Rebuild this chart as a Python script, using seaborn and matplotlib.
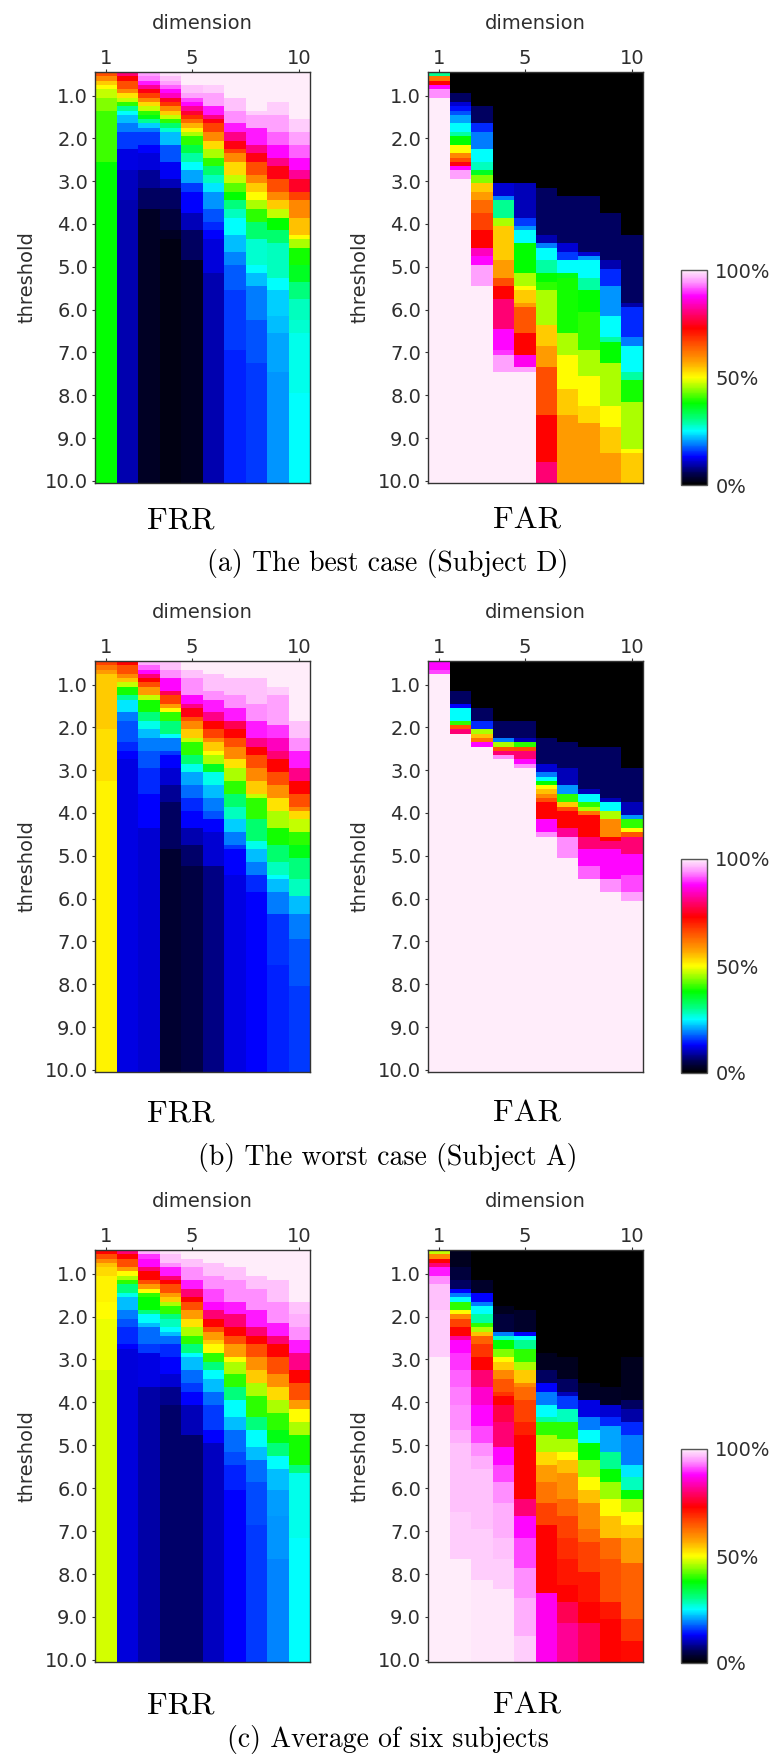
import numpy as np
import pandas as pd
import matplotlib
matplotlib.use("Agg")
import matplotlib.pyplot as plt
import seaborn as sns
from matplotlib.colors import LinearSegmentedColormap

# threshold rows (0.5 ... 10.0, step 0.1) and dimension columns
thresholds = np.round(np.arange(0.5, 10.05, 0.1), 1)
dims = [1, 2, 3, 4, 5, 6, 7, 8, 9, 10]
ytick_vals = [1.0, 2.0, 3.0, 4.0, 5.0, 6.0, 7.0, 8.0, 9.0, 10.0]
xtick_vals = [1, 5, 10]

# each column: runs of (last threshold of run, rate in %)
frr_best = [
    [(0.5, 66), (0.6, 60), (0.7, 54), (0.8, 50), (1.0, 47), (1.3, 44), (2.5, 41), (10.0, 38)],
    [(0.5, 80), (0.6, 73), (0.8, 66), (0.9, 60), (1.0, 52), (1.1, 47), (1.2, 40), (1.3, 30), (1.4, 25),
     (1.6, 22), (1.8, 19), (2.2, 16), (2.7, 12), (3.4, 10.5), (10.0, 9.5)],
    [(0.5, 95), (0.6, 93), (0.7, 89), (0.8, 82), (0.9, 74), (1.0, 67), (1.1, 60), (1.2, 53), (1.3, 47),
     (1.4, 40), (1.5, 37), (1.6, 30), (1.7, 23), (1.8, 19), (2.1, 16), (2.3, 13), (2.7, 11.5), (3.1, 8.5),
     (3.6, 6), (10.0, 2.5)],
    [(0.5, 99), (0.6, 97), (0.7, 95), (0.8, 92), (0.9, 88), (1.0, 84), (1.1, 75), (1.2, 68), (1.3, 60),
     (1.4, 54), (1.5, 47), (1.6, 40), (1.7, 32), (1.8, 27), (2.1, 22), (2.5, 17), (2.9, 12.5), (3.1, 10),
     (3.6, 6), (4.1, 4), (4.3, 2.5), (10.0, 1.5)],
    [(0.7, 100), (0.9, 97), (1.0, 95), (1.1, 91), (1.2, 88), (1.3, 82), (1.4, 76), (1.5, 69), (1.6, 63),
     (1.7, 56), (1.8, 51), (1.9, 46), (2.1, 40), (2.3, 34), (2.5, 29), (2.7, 25), (3.0, 21), (3.2, 16),
     (3.7, 13), (4.1, 10), (4.8, 6), (10.0, 2)],
    [(0.7, 100), (0.9, 98), (1.2, 95), (1.4, 89), (1.5, 81), (1.6, 74), (1.8, 67), (2.0, 60), (2.2, 53),
     (2.4, 46), (2.6, 40), (2.8, 32), (3.0, 28), (3.2, 24), (3.6, 20), (3.9, 17), (4.1, 15), (4.3, 13),
     (5.1, 11.5), (10.0, 9.5)],
    [(1.0, 100), (1.3, 97), (1.6, 94), (1.8, 89), (2.0, 81), (2.2, 74), (2.3, 67), (2.5, 60), (2.8, 53),
     (3.0, 47), (3.2, 42), (3.4, 38), (3.6, 31), (3.8, 28), (4.2, 25), (4.6, 22), (4.9, 19.5), (5.5, 17.5),
     (6.9, 16), (10.0, 14.5)],
    [(1.3, 100), (1.4, 98), (1.7, 95), (2.1, 89), (2.3, 81), (2.5, 74), (2.8, 66), (3.0, 60), (3.2, 54),
     (3.4, 50), (3.6, 46), (3.9, 40), (4.3, 32), (4.9, 27), (5.1, 25), (5.4, 22), (6.2, 19), (7.2, 17),
     (10.0, 16)],
    [(1.1, 100), (1.4, 98), (1.8, 95), (2.1, 92), (2.4, 88), (2.6, 81), (2.9, 74), (3.2, 66), (3.4, 60),
     (3.6, 54), (3.8, 47), (4.1, 38), (4.4, 32), (5.2, 28), (5.5, 25), (6.1, 23), (6.5, 22), (7.4, 21),
     (10.0, 20)],
    [(1.5, 100), (1.8, 98), (2.1, 95), (2.4, 92), (2.7, 88), (2.9, 82), (3.2, 75), (3.4, 67), (3.8, 60),
     (4.2, 55), (4.3, 50), (4.5, 46), (4.9, 39), (5.3, 36), (5.7, 31), (6.2, 28), (6.5, 27), (7.9, 26),
     (10.0, 25)],
]

far_best = [
    [(0.5, 30), (0.6, 62), (0.7, 73), (0.8, 88), (1.0, 94), (10.0, 100)],
    [(0.9, 0), (1.1, 6), (1.2, 11), (1.3, 14), (1.4, 17), (1.6, 21), (1.8, 25), (1.9, 29), (2.1, 38),
     (2.3, 50), (2.4, 60), (2.5, 66), (2.6, 74), (2.7, 88), (2.9, 95), (10.0, 100)],
    [(1.2, 0), (1.6, 6), (1.8, 15), (2.2, 19), (2.5, 25), (2.7, 28), (2.8, 36), (3.0, 44), (3.2, 54),
     (3.4, 58), (3.7, 63), (4.1, 67), (4.5, 73), (4.7, 84), (4.9, 88), (5.4, 95), (10.0, 100)],
    [(3.0, 0), (3.3, 11), (3.4, 19), (3.8, 30), (4.0, 46), (4.8, 54), (5.2, 58), (5.4, 66), (5.7, 73),
     (6.4, 80), (6.9, 88), (7.0, 90), (7.4, 95), (10.0, 100)],
    [(3.0, 0), (3.8, 10), (4.0, 16), (4.1, 20), (4.4, 25), (5.1, 38), (5.4, 46), (5.5, 50), (5.8, 54),
     (5.9, 58), (6.5, 65), (7.0, 73), (7.3, 87), (7.4, 95), (10.0, 100)],
    [(3.1, 0), (4.2, 6), (4.4, 9.5), (4.5, 19), (4.8, 25), (5.1, 29), (5.3, 38), (5.5, 40), (6.3, 46),
     (6.8, 54), (7.3, 58), (8.4, 66), (9.5, 73), (10.0, 80)],
    [(3.3, 0), (4.4, 6), (4.6, 11), (4.8, 16), (5.1, 25), (5.2, 37), (6.5, 39), (7.0, 46), (7.8, 50),
     (8.4, 54), (10.0, 58)],
    [(3.3, 0), (4.6, 6), (4.7, 11), (4.8, 20), (5.2, 25), (5.5, 29), (6.0, 38), (6.9, 40), (7.5, 46),
     (8.2, 50), (8.6, 53), (10.0, 58)],
    [(3.7, 0), (4.8, 6), (5.0, 9.5), (5.4, 15), (6.1, 20), (6.6, 25), (6.7, 29), (7.2, 38), (8.2, 46),
     (8.7, 50), (9.3, 54), (10.0, 58)],
    [(4.2, 0), (5.8, 6), (5.9, 9), (6.6, 15), (6.8, 19), (7.4, 25), (7.6, 29), (8.1, 39), (9.2, 46),
     (9.3, 50), (10.0, 54)],
]

frr_worst = [
    [(0.5, 67), (0.6, 62), (0.7, 58), (2.0, 54), (3.2, 52.5), (10.0, 51)],
    [(0.5, 73), (0.7, 66), (0.8, 60), (0.9, 55), (1.0, 47), (1.2, 39), (1.3, 30), (1.6, 24), (1.8, 19),
     (2.3, 17), (2.5, 15), (2.7, 13), (10.0, 12)],
    [(0.5, 96), (0.6, 92), (0.7, 88), (0.8, 80), (0.9, 73), (1.0, 66), (1.2, 58), (1.3, 47), (1.6, 39),
     (1.8, 31), (2.0, 26), (2.2, 22), (2.5, 19), (2.9, 17), (3.5, 15), (4.3, 13), (10.0, 11)],
    [(0.6, 97), (0.8, 94), (1.1, 88), (1.2, 78), (1.4, 67), (1.5, 58), (1.6, 50), (1.8, 40), (2.1, 31),
     (2.2, 25), (2.5, 19), (2.6, 16), (2.9, 13), (3.3, 11), (3.7, 8.5), (4.8, 6), (10.0, 3.5)],
    [(0.6, 100), (0.8, 97), (1.2, 94), (1.4, 88), (1.5, 81), (1.7, 74), (1.8, 66), (2.0, 60), (2.2, 54),
     (2.3, 47), (2.6, 40), (2.8, 32), (3.0, 26), (3.3, 21), (3.6, 18), (3.9, 15), (4.3, 13), (4.7, 9.5),
     (5.2, 6.5), (10.0, 4.5)],
    [(0.7, 100), (1.1, 97), (1.3, 94), (1.6, 89), (1.8, 81), (2.0, 73), (2.2, 67), (2.3, 60), (2.5, 54),
     (2.6, 50), (2.8, 46), (3.0, 36), (3.3, 26), (3.6, 22), (3.9, 19), (4.1, 17), (4.4, 13), (5.2, 11),
     (10.0, 7.5)],
    [(0.8, 100), (1.2, 97), (1.5, 94), (1.8, 89), (2.0, 78), (2.2, 73), (2.4, 66), (2.7, 60), (2.9, 52),
     (3.2, 46), (3.5, 40), (3.8, 32), (4.1, 28), (4.4, 23), (4.7, 19), (4.8, 16), (5.4, 13), (10.0, 12)],
    [(0.8, 100), (1.4, 97), (1.8, 94), (2.2, 89), (2.4, 81), (2.6, 73), (2.9, 66), (3.2, 60), (3.5, 54),
     (3.6, 47), (4.1, 40), (4.6, 32), (4.8, 26), (5.1, 22), (5.4, 19), (5.8, 15), (10.0, 13)],
    [(1.0, 100), (1.2, 98), (1.9, 95), (2.2, 90), (2.5, 84), (2.7, 80), (3.0, 73), (3.3, 66), (3.6, 59),
     (3.9, 52), (4.3, 46), (4.7, 39), (5.1, 32), (5.4, 28), (5.5, 25), (5.8, 22), (6.3, 19), (7.5, 15.5),
     (10.0, 14.5)],
    [(1.8, 100), (2.2, 97), (2.5, 94), (2.9, 89), (3.2, 81), (3.5, 73), (3.8, 66), (3.9, 60), (4.1, 53),
     (4.4, 47), (4.7, 40), (5.0, 37), (5.5, 31), (5.9, 28), (6.3, 22), (6.9, 19), (8.0, 17), (10.0, 16)],
]

far_worst = [
    [(0.6, 88), (0.7, 91), (10.0, 100)],
    [(1.1, 0), (1.4, 6), (1.5, 13), (1.8, 25), (1.9, 40), (2.0, 65), (2.1, 80), (10.0, 100)],
    [(1.5, 0), (1.8, 6), (2.0, 15), (2.1, 46), (2.2, 55), (2.3, 62), (2.4, 88), (10.0, 100)],
    [(1.8, 0), (2.2, 6), (2.3, 19), (2.4, 46), (2.5, 65), (2.6, 80), (2.7, 94), (10.0, 100)],
    [(1.8, 0), (2.2, 6), (2.3, 10), (2.4, 40), (2.5, 66), (2.7, 80), (2.8, 88), (2.9, 94), (10.0, 100)],
    [(2.2, 0), (2.8, 6), (3.0, 11), (3.1, 19), (3.2, 25), (3.3, 38), (3.4, 50), (3.5, 55), (3.6, 60),
     (3.7, 66), (4.1, 73), (4.4, 88), (4.5, 94), (10.0, 100)],
    [(2.3, 0), (2.9, 6), (3.3, 10), (3.5, 20), (3.7, 40), (3.8, 54), (3.9, 66), (4.3, 73), (4.5, 82),
     (5.0, 94), (10.0, 100)],
    [(2.4, 0), (3.4, 6), (3.5, 10), (3.7, 25), (3.8, 40), (3.9, 46), (4.0, 62), (4.5, 73), (4.8, 80),
     (5.2, 88), (5.5, 92), (10.0, 100)],
    [(2.4, 0), (3.6, 6), (3.7, 10), (3.9, 25), (4.1, 46), (4.5, 60), (4.6, 73), (4.8, 80), (5.5, 88),
     (5.8, 94), (10.0, 100)],
    [(2.9, 0), (3.7, 6), (4.0, 10), (4.1, 20), (4.3, 40), (4.4, 50), (4.5, 65), (4.9, 80), (5.4, 88),
     (5.8, 91), (6.0, 95), (10.0, 100)],
]

frr_avg = [
    [(0.5, 73), (0.6, 66), (0.7, 60), (0.8, 55), (1.0, 53), (1.6, 51), (2.0, 50), (3.2, 49), (10.0, 48)],
    [(0.5, 80), (0.6, 73), (0.8, 66), (0.9, 58), (1.0, 50), (1.1, 46), (1.2, 40), (1.4, 31), (1.5, 26),
     (1.8, 22), (2.0, 19), (2.2, 17), (2.6, 15), (2.7, 13), (10.0, 11.5)],
    [(0.5, 96), (0.6, 90), (0.8, 88), (0.9, 80), (1.1, 73), (1.2, 66), (1.3, 58), (1.4, 50), (1.5, 40),
     (1.8, 38), (1.9, 31), (2.1, 25), (2.2, 22), (2.6, 18), (2.8, 16), (3.6, 12), (10.0, 9)],
    [(0.5, 99), (0.7, 97), (0.8, 94), (1.0, 89), (1.1, 80), (1.2, 73), (1.4, 66), (1.5, 58), (1.6, 54),
     (1.7, 46), (1.9, 40), (2.0, 31), (2.2, 28), (2.3, 25), (2.4, 22), (2.6, 18), (2.9, 15), (3.3, 13),
     (3.6, 11), (4.0, 8), (10.0, 6.5)],
    [(0.6, 100), (0.8, 97), (1.1, 94), (1.3, 89), (1.5, 80), (1.6, 73), (1.8, 66), (2.0, 58), (2.2, 52),
     (2.4, 46), (2.6, 40), (2.8, 31), (2.9, 25), (3.2, 22), (3.5, 18), (3.7, 16), (4.0, 13), (4.7, 10),
     (10.0, 6.5)],
    [(0.7, 100), (1.0, 97), (1.3, 94), (1.6, 91), (1.8, 88), (2.0, 80), (2.2, 73), (2.3, 66), (2.5, 58),
     (2.6, 54), (2.8, 50), (3.0, 40), (3.2, 31), (3.4, 25), (3.7, 22), (4.0, 18), (4.6, 16), (4.9, 13),
     (10.0, 10.5)],
    [(0.8, 100), (1.1, 97), (1.6, 94), (1.9, 89), (2.2, 80), (2.4, 73), (2.6, 66), (2.9, 58), (3.0, 50),
     (3.3, 46), (3.6, 40), (3.9, 31), (4.3, 25), (4.6, 22), (5.1, 18), (5.4, 16.5), (6.0, 14.5), (10.0, 13)],
    [(1.0, 100), (1.3, 97), (1.8, 94), (2.2, 89), (2.4, 80), (2.6, 73), (2.9, 66), (3.2, 59), (3.5, 54),
     (3.8, 46), (4.3, 40), (4.6, 31), (5.0, 25), (5.3, 22), (5.8, 18), (6.8, 16.5), (10.0, 16)],
    [(1.1, 100), (1.6, 97), (2.1, 94), (2.4, 89), (2.6, 80), (2.9, 73), (3.3, 66), (3.6, 59), (3.9, 53),
     (4.2, 46), (4.6, 40), (4.9, 37), (5.2, 31), (5.5, 25), (6.0, 22), (6.6, 20.5), (7.6, 20), (10.0, 19.5)],
    [(1.6, 100), (1.9, 97), (2.2, 96), (2.5, 94), (2.8, 89), (3.2, 81), (3.5, 73), (3.9, 66), (4.1, 58),
     (4.4, 50), (4.7, 46), (5.4, 39), (5.6, 31), (7.1, 26), (10.0, 25)],
]

far_avg = [
    [(0.5, 47), (0.6, 60), (0.7, 73), (0.8, 80), (1.0, 89), (1.2, 94), (1.8, 97), (2.9, 98), (10.0, 100)],
    [(0.8, 2), (1.1, 4), (1.3, 6), (1.4, 13), (1.5, 19), (1.6, 25), (1.8, 40), (1.9, 50), (2.0, 60),
     (2.2, 67), (2.4, 73), (2.5, 82), (2.8, 88), (3.2, 90), (3.6, 92), (4.0, 93), (4.6, 94), (4.9, 96),
     (6.5, 97), (7.6, 98), (10.0, 100)],
    [(1.1, 0), (1.4, 3), (1.6, 13), (1.7, 19), (1.9, 25), (2.1, 29), (2.2, 40), (2.3, 46), (2.4, 55),
     (2.6, 64), (2.9, 68), (3.2, 73), (3.6, 80), (4.0, 85), (4.5, 88), (4.9, 91), (5.2, 94), (5.5, 96),
     (6.9, 97), (8.1, 98), (10.0, 99.5)],
    [(1.7, 0), (1.9, 2), (2.3, 4), (2.4, 19), (2.5, 27), (2.7, 38), (2.9, 44), (3.0, 50), (3.2, 54),
     (3.4, 60), (3.7, 65), (3.8, 68), (4.0, 73), (4.4, 77), (5.0, 80), (5.4, 88), (5.8, 91), (6.3, 94),
     (7.1, 96), (7.6, 97), (8.3, 98), (10.0, 99.5)],
    [(1.8, 0), (2.3, 3), (2.4, 13), (2.5, 25), (2.7, 30), (3.0, 40), (3.2, 46), (3.5, 54), (3.6, 60),
     (3.9, 63), (4.4, 67), (4.7, 70), (6.2, 73), (6.6, 80), (7.1, 88), (7.8, 91), (8.5, 94), (9.4, 96),
     (10.0, 98)],
    [(2.8, 0), (3.2, 2), (3.5, 6), (3.7, 13), (4.0, 19), (4.3, 25), (4.4, 29), (4.7, 40), (5.1, 46),
     (5.4, 53), (5.8, 58), (6.3, 62), (6.8, 67), (8.4, 73), (10.0, 87)],
    [(2.9, 0), (3.4, 2), (3.7, 6), (3.8, 10), (4.1, 16), (4.4, 28), (4.8, 40), (5.1, 46), (5.3, 50),
     (5.6, 55), (6.2, 59), (6.6, 63), (7.1, 67), (7.6, 69), (8.2, 71), (8.6, 73), (9.1, 78), (10.0, 82)],
    [(3.5, 0), (3.9, 2.5), (4.3, 12), (4.6, 19), (4.9, 25), (5.3, 38), (5.7, 45), (6.0, 50), (6.3, 55),
     (6.9, 60), (7.2, 63), (7.9, 67), (8.6, 71), (9.1, 73), (10.0, 78)],
    [(3.6, 0), (4.0, 2.5), (4.3, 11), (4.5, 15), (5.1, 21), (5.5, 30), (5.8, 38), (6.2, 45), (6.6, 50),
     (7.1, 55), (7.6, 63), (8.6, 66), (9.0, 71), (10.0, 73)],
    [(2.9, 0), (3.9, 2), (4.1, 6), (4.4, 9), (4.7, 15), (5.4, 19), (5.7, 24), (6.0, 28), (6.2, 38),
     (6.5, 46), (6.8, 50), (7.1, 54), (7.7, 58), (9.0, 64), (9.5, 68), (10.0, 72)],
]

captions = ["(a) The best case (Subject D)", "(b) The worst case (Subject A)", "(c) Average of six subjects"]


def expand(runs):
    vals = []
    for t_end, v in runs:
        n = int(round((t_end - 0.5) * 10)) + 1 - len(vals)
        vals += [v] * n
    return vals[:len(thresholds)]


def to_frame(cols):
    return pd.DataFrame({d: expand(c) for d, c in zip(dims, cols)}, index=thresholds)


cmap = LinearSegmentedColormap.from_list("rate", [
    (0.00, (0, 0, 0)), (0.05, (0, 0, 0.3)), (0.13, (0, 0, 1)), (0.19, (0, 0.5, 1)),
    (0.25, (0, 1, 1)), (0.30, (0, 1, 0.55)), (0.38, (0, 1, 0)), (0.45, (0.6, 1, 0)),
    (0.50, (1, 1, 0)), (0.57, (1, 0.65, 0)), (0.66, (1, 0.3, 0)), (0.73, (1, 0, 0)),
    (0.80, (1, 0, 0.45)), (0.88, (1, 0, 1)), (0.94, (1, 0.55, 1)), (1.00, (1, 0.93, 0.98)),
])

W, H = 775, 1757
fig = plt.figure(figsize=(W / 100, H / 100), dpi=100)


def px_axes(x0, y0, x1, y1):
    return fig.add_axes([x0 / W, 1 - y1 / H, (x1 - x0) / W, (y1 - y0) / H])


txt = "#2e2e2e"
rows = [
    (frr_best, far_best, 72, 483, 270, 485, 521, 564),
    (frr_worst, far_worst, 661, 1072, 859, 1073, 1114, 1157),
    (frr_avg, far_avg, 1250, 1662, 1449, 1663, 1706, 1739),
]

for r, (frr, far, top, bot, cb_top, cb_bot, lab_y, cap_y) in enumerate(rows):
    for k, (data, x0) in enumerate([(frr, 95), (far, 428)]):
        ax = px_axes(x0, top, x0 + 215, bot)
        if k == 1:
            cax = px_axes(681, cb_top, 707, cb_bot)
            sns.heatmap(to_frame(data), ax=ax, cmap=cmap, vmin=0, vmax=100,
                        cbar=True, cbar_ax=cax, cbar_kws={"ticks": [0, 50, 100]},
                        xticklabels=False, yticklabels=False)
            cb = ax.collections[0].colorbar
            cb.outline.set_edgecolor("#555555")
            cb.outline.set_linewidth(1)
            cax.set_yticklabels(["0%", "50%", "100%"])
            cax.tick_params(length=0, labelsize=14, labelcolor=txt, pad=6)
        else:
            sns.heatmap(to_frame(data), ax=ax, cmap=cmap, vmin=0, vmax=100, cbar=False,
                        xticklabels=False, yticklabels=False)
        ax.xaxis.tick_top()
        ax.xaxis.set_label_position("top")
        ax.set_xticks([dims.index(d) + 0.5 for d in xtick_vals])
        ax.set_xticklabels([str(d) for d in xtick_vals])
        ax.set_yticks([int(np.argmin(np.abs(thresholds - t))) + 0.5 for t in ytick_vals])
        ax.set_yticklabels([f"{t:.1f}" for t in ytick_vals], rotation=0)
        ax.tick_params(axis="both", labelsize=14, length=2, width=0.8, color="#333333",
                       labelcolor=txt)
        ax.tick_params(axis="x", pad=1)
        ax.tick_params(axis="y", pad=3)
        ax.set_xlabel("dimension", fontsize=14, color=txt, labelpad=14)
        ax.set_ylabel("threshold", fontsize=14, color=txt, labelpad=6)
        for s in ax.spines.values():
            s.set_visible(True)
            s.set_color("#333333")
            s.set_linewidth(1)

    fig.text(181 / W, 1 - lab_y / H, "FRR", ha="center", va="center",
             fontfamily="cmr10", fontsize=23, color="black")
    fig.text(527 / W, 1 - lab_y / H, "FAR", ha="center", va="center",
             fontfamily="cmr10", fontsize=23, color="black")
    fig.text(388 / W, 1 - cap_y / H, captions[r], ha="center", va="center",
             fontfamily="cmr10", fontsize=20, color="black")

fig.savefig("out.png", dpi=100, facecolor="white")
